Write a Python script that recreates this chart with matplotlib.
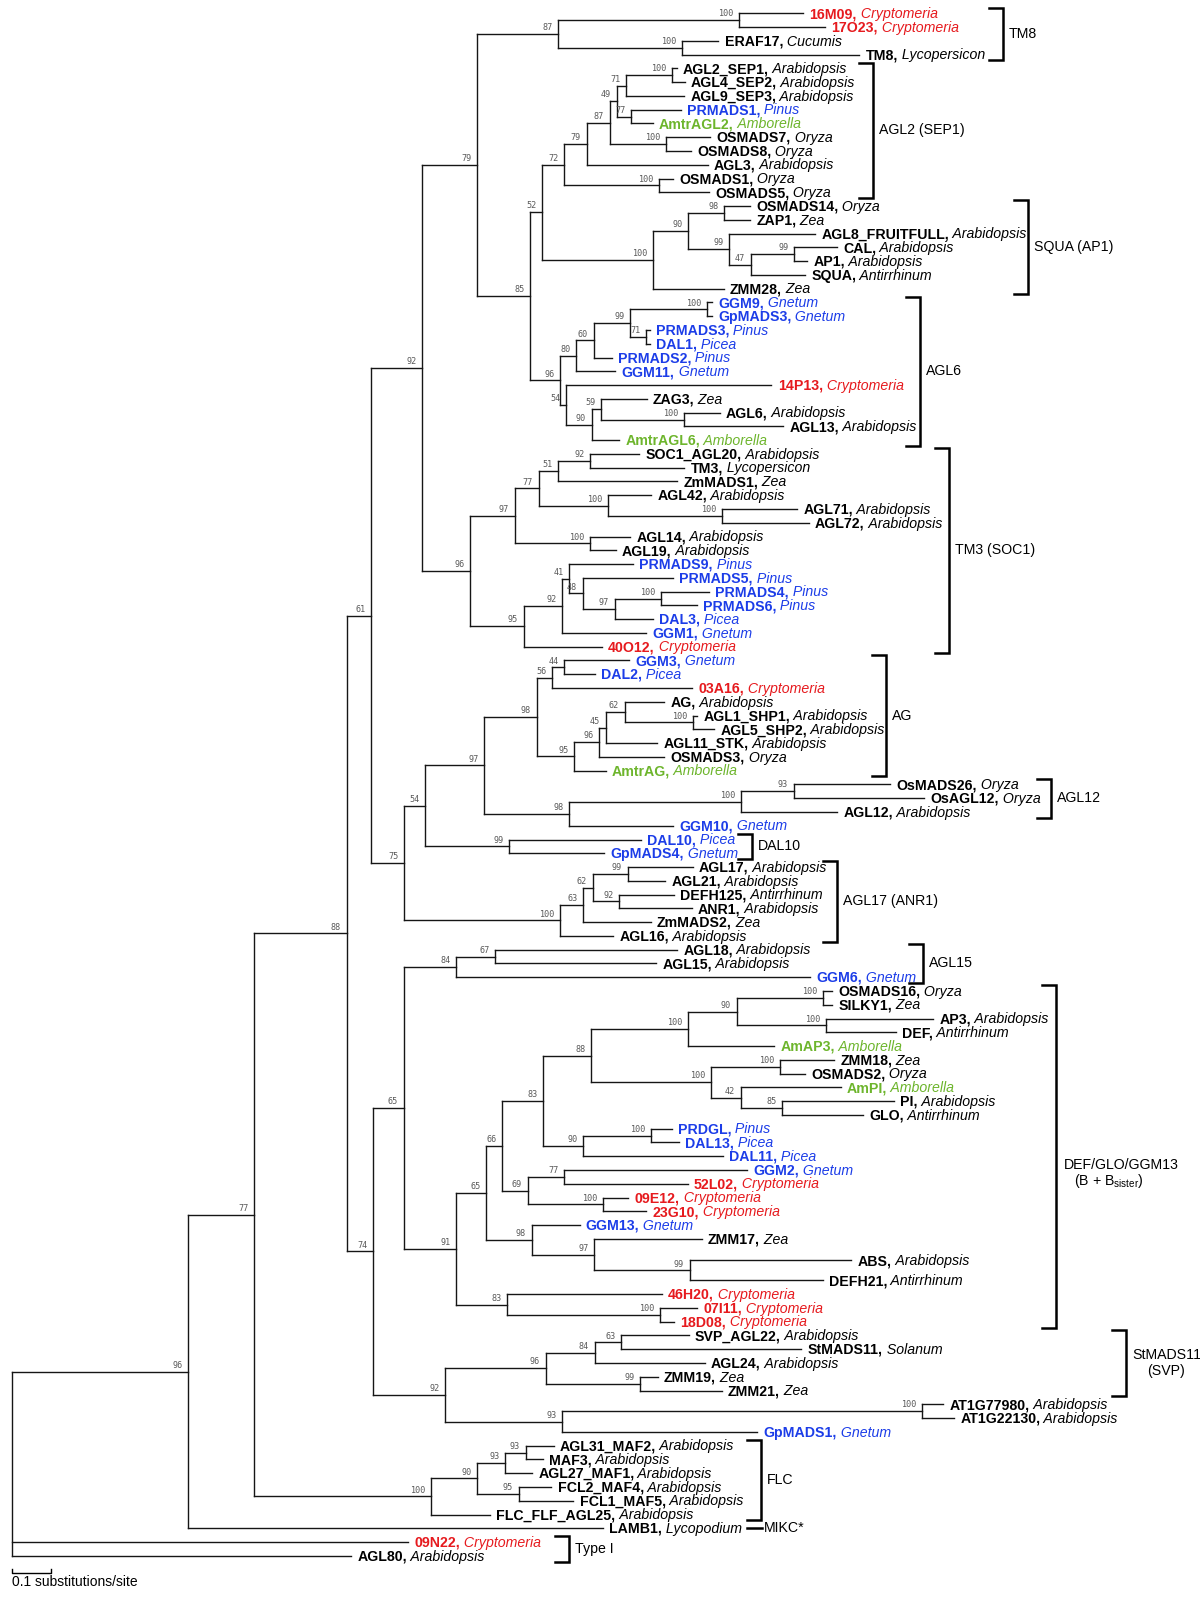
import re
import matplotlib
matplotlib.use('Agg')
import matplotlib.pyplot as plt
from matplotlib.collections import LineCollection

plt.rcParams['font.family'] = ['Liberation Sans', 'DejaVu Sans']
plt.rcParams['mathtext.fontset'] = 'custom'
plt.rcParams['mathtext.rm'] = 'Liberation Sans'

# MADS-box gene tree: branch lengths in substitutions/site, bootstrap on internal nodes
tree_newick = (
    "((((("
    "((((16M09|Cryptomeria:0.164,17O23|Cryptomeria:0.221)100:0.464,"
    "(ERAF17|Cucumis:0.094,TM8|Lycopersicon:0.455)100:0.317)87:0.208,"
    "((((((((AGL2_SEP1|Arabidopsis:0.012,AGL4_SEP2|Arabidopsis:0.033)100:0.118,AGL9_SEP3|Arabidopsis:0.149)71:0.024,"
    "(PRMADS1|Pinus:0.127,AmtrAGL2|Amborella:0.056)77:0.037)49:0.018,"
    "(OSMADS7|Oryza:0.114,OSMADS8|Oryza:0.064)100:0.144)87:0.059,"
    "AGL3|Arabidopsis:0.311)79:0.058,"
    "(OSMADS1|Oryza:0.035,OSMADS5|Oryza:0.127)100:0.244)72:0.055,"
    "(((OSMADS14|Oryza:0.067,ZAP1|Zea:0.067)98:0.091,"
    "(AGL8_FRUITFULL|Arabidopsis:0.221,((CAL|Arabidopsis:0.110,AP1|Arabidopsis:0.033)99:0.111,SQUA|Antirrhinum:0.139)47:0.056)99:0.104)90:0.091,"
    "ZMM28|Zea:0.182)100:0.283)52:0.031,"
    "(((((GGM9|Gnetum:0.013,GpMADS3|Gnetum:0.013)100:0.196,(PRMADS3|Pinus:0.010,DAL1|Picea:0.010)71:0.040)99:0.094,"
    "PRMADS2|Pinus:0.046)60:0.045,GGM11|Gnetum:0.101)80:0.041,"
    "(14P13|Cryptomeria:0.527,((ZAG3|Zea:0.116,(AGL6|Arabidopsis:0.092,AGL13|Arabidopsis:0.255)100:0.211)59:0.025,"
    "AmtrAGL6|Amborella:0.071)90:0.066)54:0.015)96:0.076)85:0.137)79:0.141,"
    "(((((SOC1_AGL20|Arabidopsis:0.126,TM3|Lycopersicon:0.242)92:0.082,ZmMADS1|Zea:0.305)51:0.050,"
    "(AGL42|Arabidopsis:0.109,(AGL71|Arabidopsis:0.193,AGL72|Arabidopsis:0.223)100:0.291)100:0.179)77:0.061,"
    "(AGL14|Arabidopsis:0.103,AGL19|Arabidopsis:0.066)100:0.193)97:0.114,"
    "(((PRMADS9|Pinus:0.164,(PRMADS5|Pinus:0.231,((PRMADS4|Pinus:0.122,PRMADS6|Pinus:0.091)100:0.119,"
    "DAL3|Picea:0.098)97:0.082)48:0.035)41:0.018,GGM1|Gnetum:0.215)92:0.098,"
    "40O12|Cryptomeria:0.200)95:0.137)96:0.124)92:0.131,"
    "((((((GGM3|Gnetum:0.167,DAL2|Picea:0.078)44:0.031,03A16|Cryptomeria:0.358)56:0.040,"
    "((((AG|Arabidopsis:0.101,(AGL1_SHP1|Arabidopsis:0.009,AGL5_SHP2|Arabidopsis:0.053)100:0.176)62:0.049,"
    "AGL11_STK|Arabidopsis:0.132)45:0.017,OSMADS3|Oryza:0.167)96:0.064,AmtrAG|Amborella:0.081)95:0.096)98:0.135,"
    "(((OsMADS26|Oryza:0.248,OsAGL12|Oryza:0.335)93:0.135,AGL12|Arabidopsis:0.247)100:0.441,"
    "GGM10|Gnetum:0.266)98:0.218)97:0.152,"
    "(DAL10|Picea:0.338,GpMADS4|Gnetum:0.243)99:0.217)54:0.053,"
    "((((AGL17|Arabidopsis:0.167,AGL21|Arabidopsis:0.096)99:0.089,"
    "(DEFH125|Antirrhinum:0.141,ANR1|Arabidopsis:0.187)92:0.067)62:0.024,ZmMADS2|Zea:0.172)63:0.061,"
    "AGL16|Arabidopsis:0.137)100:0.399)75:0.085)61:0.062,"
    "((((AGL18|Arabidopsis:0.468,AGL15|Arabidopsis:0.413)67:0.099,GGM6|Gnetum:0.907)84:0.135,"
    "((((((((OSMADS16|Oryza:0.024,SILKY1|Zea:0.024)100:0.220,(AP3|Arabidopsis:0.276,DEF|Antirrhinum:0.180)100:0.228)90:0.125,"
    "AmAP3|Amborella:0.221)100:0.248,"
    "((ZMM18|Zea:0.140,OSMADS2|Oryza:0.065)100:0.176,(AmPI|Amborella:0.257,"
    "(PI|Arabidopsis:0.287,GLO|Antirrhinum:0.209)85:0.106)42:0.076)100:0.307)88:0.124,"
    "((PRDGL|Pinus:0.052,DAL13|Picea:0.071)100:0.175,DAL11|Picea:0.358)90:0.103)83:0.105,"
    "((GGM2|Gnetum:0.469,52L02|Cryptomeria:0.317)77:0.093,"
    "(09E12|Cryptomeria:0.066,23G10|Cryptomeria:0.112)100:0.192)69:0.066)66:0.041,"
    "(GGM13|Gnetum:0.123,(ZMM17|Zea:0.276,(ABS|Arabidopsis:0.415,DEFH21|Antirrhinum:0.341)99:0.245)97:0.160)98:0.117)65:0.076,"
    "(46H20|Cryptomeria:0.397,(07I11|Cryptomeria:0.096,18D08|Cryptomeria:0.035)100:0.392)83:0.130)91:0.135)65:0.079,"
    "((((SVP_AGL22|Arabidopsis:0.173,StMADS11|Solanum:0.462)63:0.068,AGL24|Arabidopsis:0.282)84:0.126,"
    "(ZMM19|Zea:0.044,ZMM21|Zea:0.208)99:0.243)96:0.258,"
    "((AT1G77980|Arabidopsis:0.054,AT1G22130|Arabidopsis:0.081)100:0.923,GpMADS1|Gnetum:0.500)93:0.301)92:0.185)74:0.067)88:0.238,"
    "((((AGL31_MAF2|Arabidopsis:0.072,MAF3|Arabidopsis:0.044)93:0.053,AGL27_MAF1|Arabidopsis:0.069)93:0.071,"
    "(FCL2_MAF4|Arabidopsis:0.084,FCL1_MAF5|Arabidopsis:0.140)95:0.106)90:0.119,"
    "FLC_FLF_AGL25|Arabidopsis:0.152)100:0.454)77:0.169,"
    "LAMB1|Lycopodium:1.064)96:0.452,"
    "09N22|Cryptomeria:1.017,AGL80|Arabidopsis:0.870);"
)

species_colour = {'Cryptomeria': '#e61a1e', 'Pinus': '#1c3de8', 'Picea': '#1c3de8',
                  'Gnetum': '#1c3de8', 'Amborella': '#6db52c'}

# extra vertical room (in leaf rows) left above these leaves
leaf_gap = {'ABS': 0.57, 'DEFH21': 0.45}

# clade brackets: label, first leaf, last leaf
clades = [('TM8', '16M09', 'TM8'),
          ('AGL2 (SEP1)', 'AGL2_SEP1', 'OSMADS5'),
          ('SQUA (AP1)', 'OSMADS14', 'ZMM28'),
          ('AGL6', 'GGM9', 'AmtrAGL6'),
          ('TM3 (SOC1)', 'SOC1_AGL20', '40O12'),
          ('AG', 'GGM3', 'AmtrAG'),
          ('AGL12', 'OsMADS26', 'AGL12'),
          ('DAL10', 'DAL10', 'GpMADS4'),
          ('AGL17 (ANR1)', 'AGL17', 'AGL16'),
          ('AGL15', 'AGL18', 'GGM6'),
          ('', 'OSMADS16', '18D08'),
          ('StMADS11\n(SVP)', 'SVP_AGL22', 'ZMM21'),
          ('FLC', 'AGL31_MAF2', 'FLC_FLF_AGL25'),
          ('Type I', '09N22', 'AGL80')]
clade_x = [2.542, 2.208, 2.606, 2.329, 2.403, 2.242, 2.665, 1.898,
           2.116, 2.337, 2.678, 2.857, 1.921, 1.430]


def parse(s):
    s = re.sub(r'\s', '', s).rstrip(';')
    pos = 0

    def node():
        nonlocal pos
        n = {'children': [], 'name': '', 'support': '', 'length': 0.0}
        if s[pos] == '(':
            pos += 1
            while True:
                n['children'].append(node())
                if s[pos] == ',':
                    pos += 1
                else:
                    break
            pos += 1
            m = re.match(r'[0-9]*', s[pos:])
            n['support'] = m.group(0)
            pos += len(m.group(0))
        else:
            m = re.match(r'[^:,()]+', s[pos:])
            n['name'] = m.group(0)
            pos += len(m.group(0))
        if pos < len(s) and s[pos] == ':':
            m = re.match(r':([0-9.]+)', s[pos:])
            n['length'] = float(m.group(1))
            pos += len(m.group(0))
        return n
    return node()


root = parse(tree_newick)

leaves = []
ycur = [-1.0]


def layout(n, x0):
    n['x'] = x0 + n['length']
    if n['children']:
        for c in n['children']:
            layout(c, n['x'])
        n['y'] = (n['children'][0]['y'] + n['children'][-1]['y']) / 2
    else:
        gene = n['name'].split('|')[0]
        ycur[0] += 1 + leaf_gap.get(gene, 0)
        n['y'] = ycur[0]
        leaves.append(n)


layout(root, 0.0)

# pixel geometry of the page
W, H = 1200, 1597
px_sub = 390.0      # pixels per substitution/site
x_root = 11.7
y_first, y_step = 13.3, 13.77
pt = 0.72           # points per pixel at dpi 100

fig = plt.figure(figsize=(W / 100, H / 100), dpi=100)
ax = fig.add_axes([0, 0, 1, 1])
ax.set_xlim(-x_root / px_sub, (W - x_root) / px_sub)
ax.set_ylim((H - y_first) / y_step, -y_first / y_step)
ax.axis('off')

segs = []


def draw(n):
    if n['children']:
        ys = [c['y'] for c in n['children']]
        segs.append([(n['x'], min(ys)), (n['x'], max(ys))])
        for c in n['children']:
            segs.append([(n['x'], c['y']), (c['x'], c['y'])])
            draw(c)
            if c['support']:
                ax.annotate(c['support'], xy=(c['x'], c['y']), xytext=(-4, 1.3),
                            textcoords='offset points', ha='right', va='bottom',
                            fontsize=6.1, family='DejaVu Sans Mono', color='#5a5a5a')


draw(root)
ax.add_collection(LineCollection(segs, colors='#151515', linewidths=1.0,
                                 capstyle='projecting'))

leaf_y = {}
for lf in leaves:
    gene, sp = lf['name'].split('|')
    leaf_y[gene] = lf['y']
    col = species_colour.get(sp, 'black')
    t1 = ax.annotate(gene + ',', xy=(lf['x'], lf['y']), xytext=(4.5, -3.4),
                     textcoords='offset points', ha='left', va='baseline',
                     fontsize=10.2, fontweight='bold', color=col)
    ax.annotate(' ' + sp, xy=(1, 0), xycoords=t1, ha='left', va='bottom',
                fontsize=10.2, style='italic', color=col)

tick = 14 / px_sub
for (lab, a, b), bx in zip(clades, clade_x):
    y0 = leaf_y[a] - 0.42
    y1 = leaf_y[b] + 0.42
    ax.plot([bx - tick, bx, bx, bx - tick], [y0, y0, y1, y1], color='black',
            lw=1.8, solid_joinstyle='miter')
    ym = (y0 + y1) / 2
    if lab:
        ax.annotate(lab, xy=(bx, ym), xytext=(6 * pt, 0), textcoords='offset points',
                    ha='left', va='center', fontsize=10.2, multialignment='center',
                    linespacing=1.1)
    else:
        ax.annotate('DEF/GLO/GGM13', xy=(bx, ym), xytext=(8 * pt, -8.5 * pt),
                    textcoords='offset points', ha='left', va='center', fontsize=10.2)
        ax.annotate(r'(B + B$_{\mathrm{sister}}$)', xy=(bx, ym), xytext=(18 * pt, -25 * pt),
                    textcoords='offset points', ha='left', va='center', fontsize=10.2)

# MIKC* marker beside LAMB1
ym = leaf_y['LAMB1']
ax.plot([1.885, 1.924], [ym, ym], color='black', lw=1.8)
ax.annotate('MIKC*', xy=(1.924, ym), xytext=(2 * pt, 0), textcoords='offset points',
            ha='left', va='center', fontsize=10.2)

# scale bar
yb = leaf_y['AGL80'] + 1.27
hb = 0.3
ax.plot([0, 0, 0.1, 0.1], [yb - hb, yb, yb, yb - hb], color='black', lw=1.0)
ax.annotate('0.1 substitutions/site', xy=(0, yb), xytext=(0, -1.5),
            textcoords='offset points', ha='left', va='top', fontsize=10)

fig.savefig('out.png', dpi=100)
